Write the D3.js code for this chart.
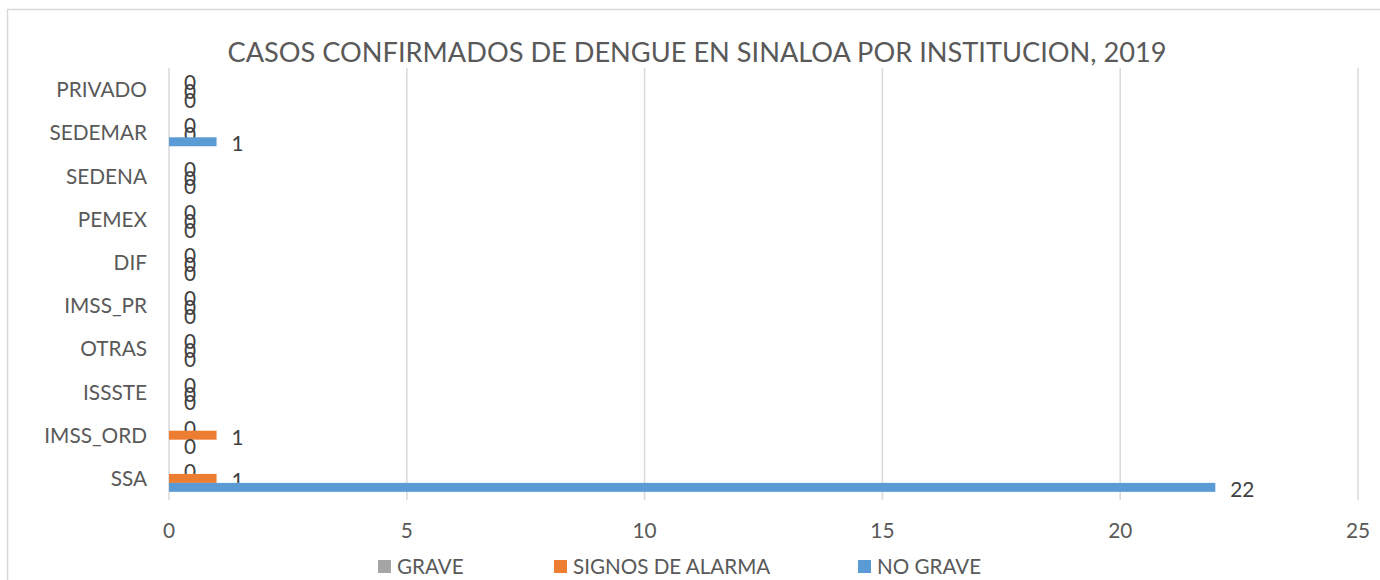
<!DOCTYPE html>
<html>
<head>
<meta charset="utf-8">
<script src="https://cdn.jsdelivr.net/npm/d3@7"></script>
<style>
  body { margin: 0; background: #fff; }
  text { font-family: Lato, "Noto Sans", sans-serif; fill: #595959; }
</style>
</head>
<body>
<div id="chart"></div>
<script>
// categories, bottom to top as in the reference
const categories = ["SSA", "IMSS_ORD", "ISSSTE", "OTRAS", "IMSS_PR", "DIF", "PEMEX", "SEDENA", "SEDEMAR", "PRIVADO"];
const seriesNames = ["GRAVE", "SIGNOS DE ALARMA", "NO GRAVE"];
const seriesColors = ["#A5A5A5", "#ED7D31", "#5B9BD5"];
const grave = [0, 0, 0, 0, 0, 0, 0, 0, 0, 0];
const signosAlarma = [1, 1, 0, 0, 0, 0, 0, 0, 0, 0];
const noGrave = [22, 0, 0, 0, 0, 0, 0, 0, 1, 0];
const xTicks = [0, 5, 10, 15, 20, 25];
const title = "CASOS CONFIRMADOS DE DENGUE EN SINALOA POR INSTITUCION, 2019";

const W = 1380, H = 580;
const svg = d3.select("#chart").append("svg").attr("width", W).attr("height", H);

// chart border (runs off the right and bottom edges)
svg.append("rect").attr("x", 7.5).attr("y", 9.5).attr("width", 1390).attr("height", 600)
    .attr("fill", "none").attr("stroke", "#D9D9D9").attr("stroke-width", 1.5);

const plot = { left: 169, right: 1358, top: 68, bottom: 500 };

const x = d3.scaleLinear().domain([0, 25]).range([plot.left, plot.right]);
const y = d3.scaleBand().domain(categories.slice().reverse()).range([plot.top, plot.bottom]);
// three bars per group, gap width 182%
const barH = y.bandwidth() / (3 + 1.82);
const inner = d3.scaleBand().domain(seriesNames).range([0, barH * 3]);
const groupOff = (y.bandwidth() - barH * 3) / 2;

// gridlines
svg.append("g").selectAll("line").data(xTicks).enter().append("line")
    .attr("x1", d => x(d)).attr("x2", d => x(d))
    .attr("y1", plot.top).attr("y2", plot.bottom)
    .attr("stroke", "#D9D9D9").attr("stroke-width", 1.5);

// x tick labels
svg.append("g").selectAll("text").data(xTicks).enter().append("text")
    .attr("x", d => x(d)).attr("y", 538)
    .attr("text-anchor", "middle").attr("font-size", 20.8)
    .text(d => d);

// category labels
svg.append("g").selectAll("text").data(categories).enter().append("text")
    .attr("x", 147).attr("y", d => y(d) + y.bandwidth() / 2 + 7.5)
    .attr("text-anchor", "end").attr("font-size", 20.8)
    .text(d => d);

const series = [grave, signosAlarma, noGrave];
series.forEach((vals, si) => {
  const rows = categories.map((c, i) => ({ cat: c, v: vals[i] }));
  const g = svg.append("g");
  g.selectAll("rect").data(rows).enter().append("rect")
      .attr("x", x(0))
      .attr("y", d => y(d.cat) + groupOff + inner(seriesNames[si]))
      .attr("width", d => x(d.v) - x(0))
      .attr("height", barH)
      .attr("fill", seriesColors[si]);
  // zero labels overlap just like in the reference
  g.selectAll("text").data(rows).enter().append("text")
      .attr("x", d => x(d.v) + 15)
      .attr("y", d => y(d.cat) + groupOff + inner(seriesNames[si]) + barH / 2 + 9.5)
      .attr("font-size", 20.8)
      .style("fill", "#404040")
      .text(d => d.v);
});

// title
svg.append("text").attr("x", 697).attr("y", 62)
    .attr("text-anchor", "middle").attr("font-size", 27.2)
    .text(title);

// legend
const legendX = [378, 554, 858];
const lg = svg.append("g").selectAll("g").data(seriesNames).enter().append("g")
    .attr("transform", (d, i) => `translate(${legendX[i]},560)`);
lg.append("rect").attr("width", 13).attr("height", 13).attr("fill", (d, i) => seriesColors[i]);
lg.append("text").attr("x", 19).attr("y", 13.5).attr("font-size", 20.6).text(d => d);
</script>
</body>
</html>
